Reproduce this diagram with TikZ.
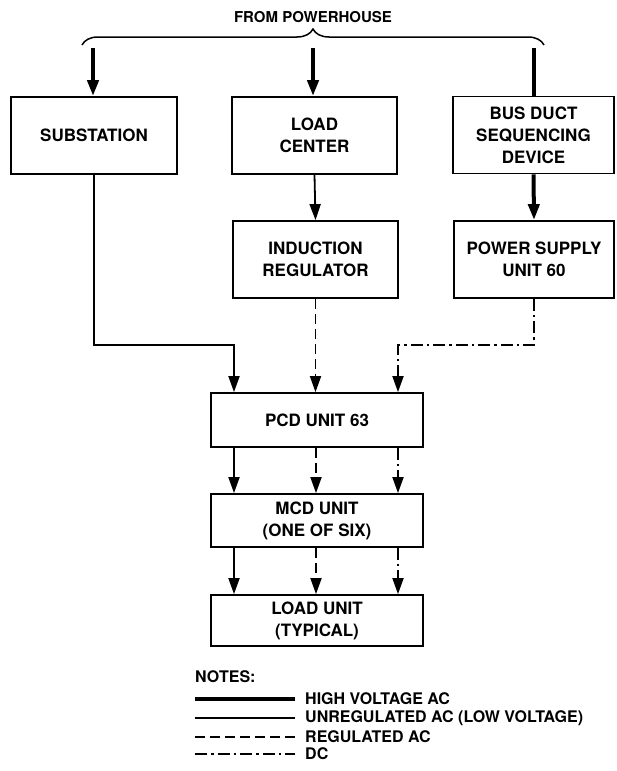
\documentclass[tikz,border=0pt]{standalone}
\usepackage{fontspec}
\setmainfont{TeX Gyre Heros}
\usetikzlibrary{arrows.meta,decorations.pathreplacing}

\begin{document}
\begin{tikzpicture}[x=1pt,y=-1pt]
\tikzset{
  unitbox/.style={rectangle,draw=black,line width=1.8pt,align=center,inner sep=2pt,font=\fontsize{17}{22}\selectfont\bfseries},
  feedline/.style={draw=black,line width=1.8pt},
  hvac/.style={feedline,line width=4pt},
  unregac/.style={feedline},
  regac/.style={feedline,dash pattern=on 10pt off 5pt},
  dcline/.style={feedline,dash pattern=on 12pt off 4pt on 2.5pt off 4pt},
  arrowed/.style={-{Triangle[length=16pt,width=11pt]}},
  keytext/.style={anchor=west,inner sep=0pt,font=\fontsize{16}{19}\selectfont\bfseries}
}
\useasboundingbox (0,0) rectangle (616,771);
\node[anchor=base,inner sep=0pt,font=\fontsize{15}{18}\selectfont\bfseries] (source) at (313,23) {FROM POWERHOUSE};
\draw[line width=1.5pt,decorate,decoration={brace,amplitude=16pt}] (82,45) -- (544,45);
\node[unitbox,minimum width=166pt,minimum height=77pt] (substation) at (94,135.5) {SUBSTATION};
\node[unitbox,minimum width=165pt,minimum height=77pt] (loadcenter) at (314.5,135.5) {LOAD\\CENTER};
\node[unitbox,minimum width=161pt,minimum height=77pt] (busduct) at (533.5,135) {BUS DUCT\\SEQUENCING\\DEVICE};
\node[unitbox,minimum width=165pt,minimum height=77pt] (inductionreg) at (315.5,259.5) {INDUCTION\\REGULATOR};
\node[unitbox,minimum width=160pt,minimum height=77pt] (powersupply) at (534,259.5) {POWER SUPPLY\\UNIT 60};
\node[unitbox,minimum width=212pt,minimum height=54pt] (pcd) at (317,420) {PCD UNIT 63};
\node[unitbox,minimum width=212pt,minimum height=53pt] (mcd) at (317,520.5) {MCD UNIT\\(ONE OF SIX)};
\node[unitbox,minimum width=212pt,minimum height=51pt] (loadunit) at (317,620.5) {LOAD UNIT\\(TYPICAL)};
\coordinate (feedA) at (93,48);
\coordinate (feedB) at (313,48);
\coordinate (feedC) at (534,48);
\coordinate (colA) at (234,345);
\coordinate (colB) at (316,345);
\coordinate (colC) at (398,345);
% feeds from the powerhouse
\draw[hvac,arrowed] (feedA) -- (feedA |- substation.north);
\draw[hvac,arrowed] (feedB) -- (feedB |- loadcenter.north);
\draw[hvac] (feedC) -- (feedC |- busduct.north);
\draw[hvac,arrowed] (busduct.south) -- (powersupply.north);
\draw[unregac,arrowed] (loadcenter.south) -- (inductionreg.north);
% into PCD unit
\draw[unregac,arrowed] (substation.south) |- (colA) -- (colA |- pcd.north);
\draw[regac,arrowed] (inductionreg.south) -- (inductionreg.south |- pcd.north);
\draw[dcline,arrowed] (powersupply.south) |- (colC) -- (colC |- pcd.north);
\foreach \col/\ls in {colA/unregac,colB/regac,colC/dcline}{
  \draw[\ls,arrowed] (\col |- pcd.south) -- (\col |- mcd.north);
  \draw[\ls,arrowed] (\col |- mcd.south) -- (\col |- loadunit.north);
}
% notes
\node[keytext] (notes) at (195,677) {NOTES:};
\foreach \yy/\ls/\txt [count=\i] in {699/hvac/{HIGH VOLTAGE AC},718/unregac/{UNREGULATED AC (LOW VOLTAGE)},737/regac/{REGULATED AC},754/dcline/{DC}}{
  \node[keytext] (key\i) at (305,\yy) {\txt};
  \draw[\ls] ([xshift=-110pt]key\i.west) -- ([xshift=-10pt]key\i.west);
}
\end{tikzpicture}
\end{document}
